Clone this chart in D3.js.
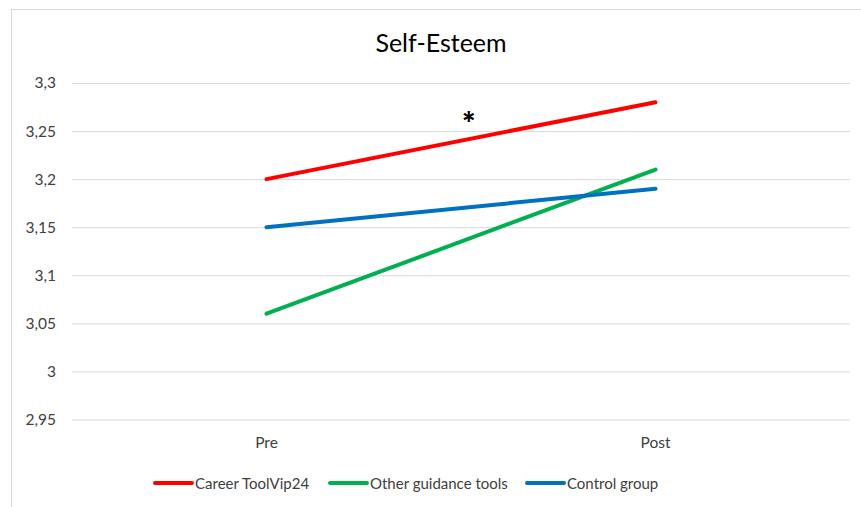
<!DOCTYPE html>
<html>
<head>
<meta charset="utf-8">
<script src="https://cdn.jsdelivr.net/npm/d3@7"></script>
<style>
  html, body { margin: 0; padding: 0; background: #fff; }
  svg { display: block; font-family: Lato, "Open Sans", sans-serif; }
</style>
</head>
<body>
<svg id="chart" width="861" height="507"></svg>
<script>
// Data
const categories = ["Pre", "Post"];
const seriesNames = ["Career ToolVip24", "Other guidance tools", "Control group"];
const seriesColors = ["#FF0000", "#00B050", "#0070C0"];
const careerToolValues = [3.20, 3.28];
const otherToolsValues = [3.06, 3.21];
const controlValues = [3.15, 3.19];
const yTicks = [2.95, 3.00, 3.05, 3.10, 3.15, 3.20, 3.25, 3.30];
const title = "Self-Esteem";
const significanceMark = { text: "*", at: 0.52, value: 3.262 };

const series = [careerToolValues, otherToolsValues, controlValues].map((vals, i) => ({
  name: seriesNames[i], color: seriesColors[i],
  points: categories.map((c, j) => ({ cat: c, value: vals[j] }))
}));

const svg = d3.select("#chart");

// outer chart frame
svg.append("rect")
  .attr("x", 11.5).attr("y", 9.5)
  .attr("width", 900).attr("height", 600)
  .attr("fill", "#fff").attr("stroke", "#D9D9D9").attr("stroke-width", 1);

const plot = { left: 72, right: 850, top: 83, bottom: 419.5 };

const x = d3.scaleBand().domain(categories).range([plot.left, plot.right]);
const y = d3.scaleLinear().domain([2.95, 3.30]).range([plot.bottom, plot.top]);

const fmt = v => d3.format(".2~f")(v).replace(".", ",");

// gridlines + y labels
const yAxis = d3.axisLeft(y).tickValues(yTicks).tickFormat(fmt)
  .tickSize(-(plot.right - plot.left)).tickPadding(16);
const gy = svg.append("g").attr("transform", `translate(${plot.left},0)`).call(yAxis);
gy.select(".domain").remove();
gy.selectAll(".tick line").attr("stroke", "#D9D9D9").attr("stroke-width", 1);
gy.selectAll(".tick text").attr("fill", "#404040").style("font-size", "15.5px")
  .style("font-family", "Lato, sans-serif");

// x labels
const xAxis = d3.axisBottom(x).tickSize(0).tickPadding(17);
const gx = svg.append("g").attr("transform", `translate(0,${plot.bottom})`).call(xAxis);
gx.select(".domain").remove();
gx.selectAll(".tick text").attr("fill", "#404040").style("font-size", "15.5px")
  .style("font-family", "Lato, sans-serif");

// series lines
const line = d3.line()
  .x(d => x(d.cat) + x.bandwidth() / 2)
  .y(d => y(d.value));

svg.append("g").selectAll("path").data(series).join("path")
  .attr("d", d => line(d.points))
  .attr("fill", "none")
  .attr("stroke", d => d.color)
  .attr("stroke-width", 4)
  .attr("stroke-linecap", "round");

// significance asterisk
const xMid = d3.interpolateNumber(
  x(categories[0]) + x.bandwidth() / 2,
  x(categories[1]) + x.bandwidth() / 2)(significanceMark.at);
svg.append("text")
  .attr("x", xMid).attr("y", y(significanceMark.value) + 11)
  .attr("text-anchor", "middle")
  .attr("fill", "#000")
  .style("font-size", "27px")
  .style("font-weight", "600")
  .style("font-family", "Inter, sans-serif")
  .text(significanceMark.text);

// title
svg.append("text")
  .attr("x", 441).attr("y", 52)
  .attr("text-anchor", "middle")
  .attr("fill", "#000")
  .style("font-size", "25px")
  .style("font-family", "Lato, sans-serif")
  .text(title);

// legend
const legendX = [155, 330, 527];
const lg = svg.append("g").selectAll("g").data(series).join("g")
  .attr("transform", (d, i) => `translate(${legendX[i]},483)`);
lg.append("line")
  .attr("x1", 0).attr("x2", 37).attr("y1", 0).attr("y2", 0)
  .attr("stroke", d => d.color).attr("stroke-width", 4).attr("stroke-linecap", "round");
lg.append("text")
  .attr("x", 40).attr("y", 5.5)
  .attr("fill", "#404040")
  .style("font-size", "15px")
  .style("font-family", "Lato, sans-serif")
  .text(d => d.name);
</script>
</body>
</html>
